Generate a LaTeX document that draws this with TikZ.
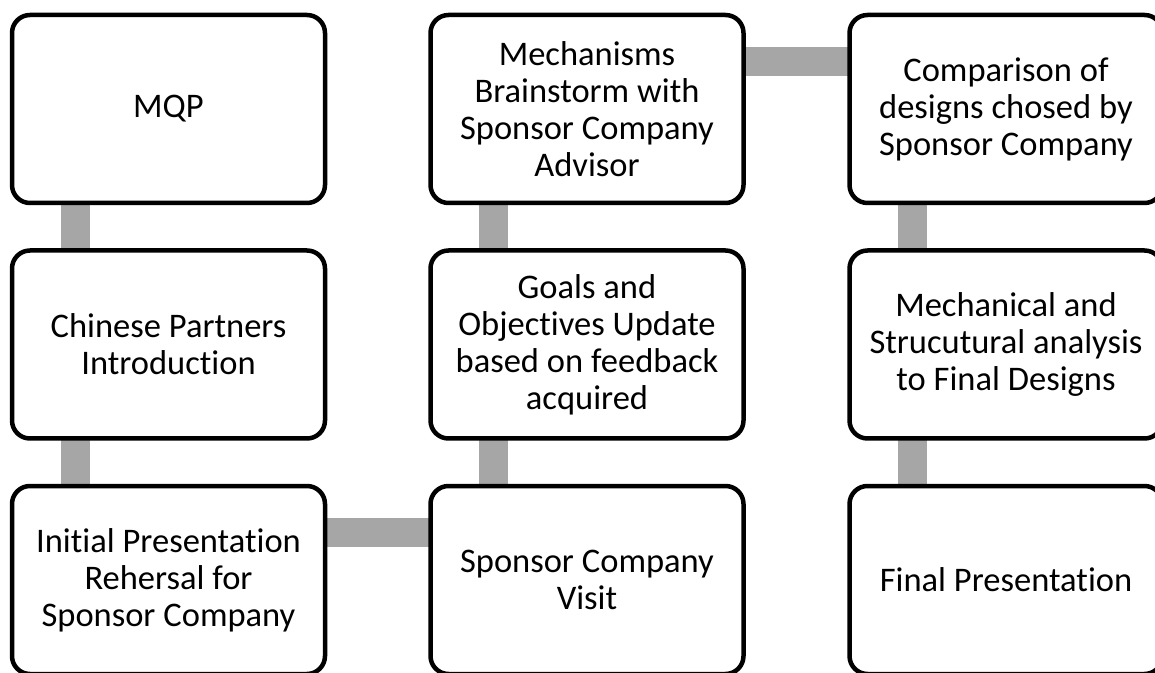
\documentclass[tikz,border=0pt]{standalone}
\usepackage{fontspec}
\setmainfont{Carlito}[Ligatures=NoCommon]
\usetikzlibrary{backgrounds}
\definecolor{linkgray}{HTML}{A6A6A6}
\tikzset{
  stage/.style={draw=black, line width=4.5pt, fill=white, rounded corners=18pt,
    minimum width=313pt, minimum height=188pt, inner sep=0pt,
    align=center, text width=305pt,
    font=\fontsize{34.5pt}{37pt}\selectfont,
    execute at begin node={\spaceskip=0.23em\relax}},
  link/.style={draw=linkgray, line width=29pt}
}
\begin{document}
\begin{tikzpicture}[x=1pt,y=1pt]
  \useasboundingbox (0,0) rectangle (1155,672);
  % grid of stages (column centres 168.5 / 587 / 1006, row centres from top 109 / 344.5 / 580)
  \node[stage] (mqp)   at (168.5,563)   {MQP};
  \node[stage] (intro) at (168.5,327.5) {Chinese Partners\\Introduction};
  \node[stage] (rehe)  at (168.5,92)    {Initial Presentation\\Rehersal for\\Sponsor Company};
  \node[stage] (visit) at (587,92)      {Sponsor Company\\Visit};
  \node[stage] (goals) at (587,327.5)   {Goals and\\Objectives Update\\based on feedback\\acquired};
  \node[stage] (brain) at (587,563)     {Mechanisms\\Brainstorm with\\Sponsor Company\\Advisor};
  \node[stage] (comp)  at (1006,563)    {Comparison of\\designs chosed by\\Sponsor Company};
  \node[stage] (anal)  at (1006,327.5)  {Mechanical and\\Strucutural analysis\\to Final Designs};
  \node[stage] (final) at (1006,92)     {Final Presentation};
  % grey links behind the boxes
  \begin{scope}[on background layer]
    \draw[link] ([xshift=-93.5pt]mqp.center)   -- ([xshift=-93.5pt]intro.center);
    \draw[link] ([xshift=-93.5pt]intro.center) -- ([xshift=-93.5pt]rehe.center);
    \draw[link] ([yshift=47.5pt]rehe.center)   -- ([yshift=47.5pt]visit.center);
    \draw[link] ([xshift=-93.5pt]visit.center) -- ([xshift=-93.5pt]goals.center);
    \draw[link] ([xshift=-93.5pt]goals.center) -- ([xshift=-93.5pt]brain.center);
    \draw[link] ([yshift=47.5pt]brain.center)  -- ([yshift=47.5pt]comp.center);
    \draw[link] ([xshift=-93.5pt]comp.center)  -- ([xshift=-93.5pt]anal.center);
    \draw[link] ([xshift=-93.5pt]anal.center)  -- ([xshift=-93.5pt]final.center);
  \end{scope}
\end{tikzpicture}
\end{document}
